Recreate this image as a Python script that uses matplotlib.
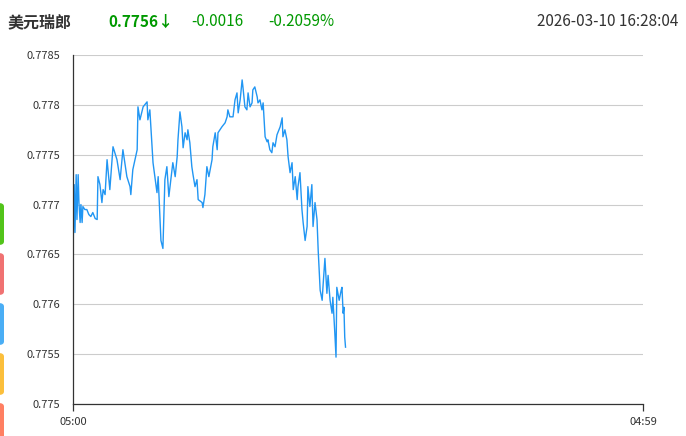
import matplotlib
matplotlib.use('Agg')
import matplotlib.pyplot as plt
from matplotlib.patches import FancyBboxPatch
from matplotlib.ticker import FuncFormatter
import numpy as np

plt.rcParams['font.family'] = ['Noto Sans CJK SC', 'DejaVu Sans']

# minutes after 05:00
minutes = [0, 3, 5, 8, 10, 13, 15, 18, 20, 23, 25, 30, 35, 40, 45, 50, 56, 61,
           63, 68, 73, 76, 81, 86, 93, 101, 111, 119, 126, 136, 144, 146, 151,
           162, 164, 169, 177, 187, 189, 194, 202, 212, 215, 222, 227, 232, 237,
           242, 250, 252, 258, 263, 265, 270, 275, 278, 283, 288, 290, 295, 300,
           303, 308, 313, 316, 326, 328, 333, 338, 343, 351, 353, 359, 364, 366,
           376, 384, 389, 391, 396, 404, 409, 414, 417, 422, 427, 429, 434, 439,
           442, 447, 452, 454, 459, 465, 467, 472, 477, 480, 485, 490, 492, 497,
           502, 505, 510, 515, 523, 528, 530, 535, 540, 543, 548, 553, 556, 561,
           566, 568, 573, 578, 581, 586, 591, 593, 598, 603, 606, 611, 616, 619,
           624, 629, 631, 636, 641, 644, 649, 654, 656, 661, 664, 666, 672, 677,
           679, 682, 684, 686, 688]
prices = [0.77649, 0.77720, 0.77672, 0.77730, 0.77685, 0.77730, 0.77702, 0.77682,
          0.77700, 0.77682, 0.77698, 0.77695, 0.77695, 0.77690, 0.77688, 0.77692,
          0.77686, 0.77685, 0.77728, 0.77720, 0.77702, 0.77715, 0.77710, 0.77745,
          0.77715, 0.77758, 0.77745, 0.77725, 0.77755, 0.77728, 0.77718, 0.77710,
          0.77735, 0.77755, 0.77798, 0.77785, 0.77798, 0.77803, 0.77785, 0.77795,
          0.77742, 0.77712, 0.77728, 0.77664, 0.77656, 0.77725, 0.77738, 0.77708,
          0.77735, 0.77742, 0.77728, 0.77748, 0.77765, 0.77793, 0.77778, 0.77757,
          0.77772, 0.77765, 0.77775, 0.77762, 0.77738, 0.77730, 0.77718, 0.77725,
          0.77705, 0.77702, 0.77697, 0.77710, 0.77738, 0.77728, 0.77745, 0.77758,
          0.77772, 0.77755, 0.77772, 0.77778, 0.77782, 0.77788, 0.77795, 0.77788,
          0.77788, 0.77805, 0.77812, 0.77792, 0.77805, 0.77825, 0.77818, 0.77798,
          0.77795, 0.77812, 0.77798, 0.77802, 0.77815, 0.77818, 0.77808, 0.77802,
          0.77805, 0.77795, 0.77802, 0.77768, 0.77763, 0.77765, 0.77755, 0.77752,
          0.77762, 0.77758, 0.77770, 0.77778, 0.77787, 0.77768, 0.77775, 0.77765,
          0.77748, 0.77732, 0.77742, 0.77715, 0.77728, 0.77705, 0.77718, 0.77732,
          0.77695, 0.77682, 0.77664, 0.77678, 0.77718, 0.77698, 0.77720, 0.77678,
          0.77702, 0.77685, 0.77654, 0.77614, 0.77604, 0.77617, 0.77646, 0.77611,
          0.77629, 0.77604, 0.77591, 0.77607, 0.77571, 0.77547, 0.77617, 0.77604,
          0.77614, 0.77617, 0.77591, 0.77597, 0.77567, 0.77557]

y_ticks = [0.775, 0.7755, 0.776, 0.7765, 0.777, 0.7775, 0.778, 0.7785]
x_ticks = [0, 1439]
x_labels = ['05:00', '04:59']

title = '美元瑞郎'
last_price = '0.7756↓'
change = '-0.0016'
change_pct = '-0.2059%'
stamp = '2026-03-10 16:28:04'
tab_colors = ['#52c41a', '#f07272', '#4aaef5', '#fbbf3c', '#ff7f62']

W, H = 686, 436
fig = plt.figure(figsize=(W / 100, H / 100), dpi=100)
ax = fig.add_axes([73 / W, 1 - 404 / H, 570 / W, 349 / H])

ax.plot(minutes, prices, color='#2196F3', lw=1.0)

ax.set_xlim(0, 1439)
ax.set_ylim(0.775, 0.7785)
ax.set_yticks(y_ticks)
ax.yaxis.set_major_formatter(FuncFormatter(lambda v, p: ('%.4f' % v).rstrip('0')))
ax.set_xticks(x_ticks)
ax.set_xticklabels(x_labels)
ax.grid(axis='y', color='#cccccc', lw=0.8)
ax.set_axisbelow(True)
for s in ['top', 'right']:
    ax.spines[s].set_visible(False)
for s in ['left', 'bottom']:
    ax.spines[s].set_color('#333333')
    ax.spines[s].set_linewidth(0.9)
ax.tick_params(axis='y', length=0, pad=9, labelsize=8, labelcolor='#333333')
ax.tick_params(axis='x', length=5, width=0.9, color='#333333', pad=4,
               labelsize=8, labelcolor='#333333')

# header
fig.text(8 / W, 1 - 22 / H, title, fontsize=11.5, fontweight='bold',
         color='#333333', va='center')
fig.text(108 / W, 1 - 22 / H, last_price, fontsize=11, fontweight='bold',
         color='#009900', va='center')
fig.text(191 / W, 1 - 22 / H, change, fontsize=11, color='#009900', va='center')
fig.text(268 / W, 1 - 22 / H, change_pct, fontsize=11, color='#009900', va='center')
fig.text(678 / W, 1 - 22 / H, stamp, fontsize=11, color='#333333',
         va='center', ha='right')

# coloured tabs on the left edge
for i, c in enumerate(tab_colors):
    top = 203 + 50 * i
    patch = FancyBboxPatch((-6 / W, 1 - (top + 42) / H), 10 / W, 42 / H,
                           boxstyle='round,pad=0,rounding_size=0.008',
                           transform=fig.transFigure, color=c, lw=0)
    fig.patches.append(patch)

fig.savefig('out.png', dpi=100)
